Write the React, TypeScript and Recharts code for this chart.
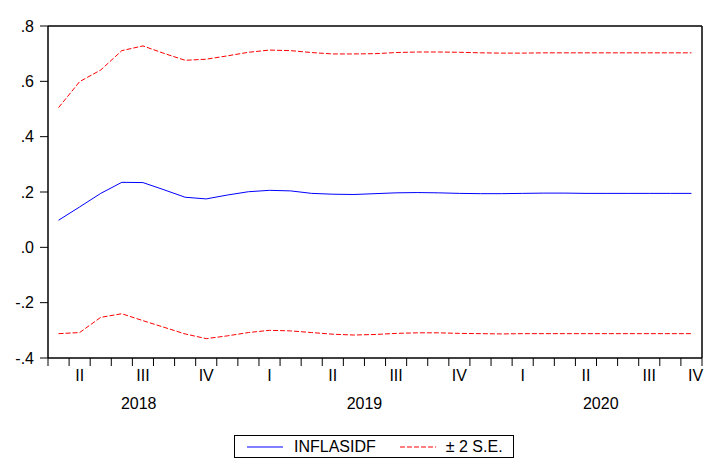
import { LineChart, Line, XAxis, YAxis, ReferenceLine } from 'recharts';

const months = [
  '2018M04', '2018M05', '2018M06', '2018M07', '2018M08', '2018M09', '2018M10', '2018M11', '2018M12',
  '2019M01', '2019M02', '2019M03', '2019M04', '2019M05', '2019M06', '2019M07', '2019M08', '2019M09',
  '2019M10', '2019M11', '2019M12', '2020M01', '2020M02', '2020M03', '2020M04', '2020M05', '2020M06',
  '2020M07', '2020M08', '2020M09', '2020M10',
];

const forecast = [
  0.098, 0.146, 0.195, 0.235, 0.234, 0.208, 0.181, 0.175, 0.189, 0.201, 0.206, 0.204, 0.195, 0.192,
  0.191, 0.194, 0.197, 0.198, 0.197, 0.195, 0.194, 0.194, 0.195, 0.196, 0.196, 0.195, 0.195, 0.195,
  0.195, 0.195, 0.195,
];

const upper = [
  0.505, 0.599, 0.641, 0.711, 0.728, 0.701, 0.676, 0.680, 0.692, 0.705, 0.713, 0.711, 0.704, 0.699,
  0.699, 0.700, 0.704, 0.706, 0.706, 0.705, 0.703, 0.702, 0.702, 0.703, 0.703, 0.703, 0.703, 0.703,
  0.703, 0.703, 0.703,
];

const lower = [
  -0.312, -0.308, -0.253, -0.240, -0.265, -0.289, -0.313, -0.330, -0.320, -0.308, -0.300, -0.302,
  -0.308, -0.314, -0.317, -0.315, -0.311, -0.309, -0.309, -0.311, -0.312, -0.313, -0.312, -0.312,
  -0.312, -0.312, -0.312, -0.312, -0.312, -0.312, -0.312,
];

const quarterLabels = ['II', 'III', 'IV', 'I', 'II', 'III', 'IV', 'I', 'II', 'III', 'IV'];
const quarterPos = [1.5, 4.5, 7.5, 10.5, 13.5, 16.5, 19.5, 22.5, 25.5, 28.5, 30.7];
const yearLabels = ['2018', '2019', '2020'];
const yearPos = [4.3, 15, 26.2];
const yTicks = [-0.4, -0.2, 0, 0.2, 0.4, 0.6, 0.8];

const monthTicks = months.map((_, i) => i).concat([months.length]);

const data = months.map((m, i) => ({
  month: m,
  x: i + 0.5,
  forecast: forecast[i],
  upper: upper[i],
  lower: lower[i],
}));

const FONT = '"Liberation Sans", Arial, sans-serif';

function fmtY(v: number) {
  if (v === 0) return '.0';
  const s = Math.abs(v).toFixed(1).replace(/^0/, '');
  return v < 0 ? '-' + s : s;
}

export default function App() {
  return (
    <div style={{ position: 'absolute', left: 0, top: 0, width: 708, height: 461, background: '#fff', fontFamily: FONT }}>
      <LineChart width={708} height={461} data={data} margin={{ top: 26, right: 6, bottom: 39, left: 0 }}>
        <XAxis
          dataKey="x" type="number" domain={[0, 31]} ticks={monthTicks}
          tickFormatter={() => ''} tickSize={8} height={8}
          stroke="#000" axisLine={{ stroke: '#000', strokeWidth: 1.5 }}
        />
        <XAxis
          xAxisId="q" dataKey="x" type="number" domain={[0, 31]} ticks={quarterPos}
          tickFormatter={(_v: number, i: number) => quarterLabels[i]}
          axisLine={false} tickLine={false} tickSize={0} tickMargin={4} height={26}
          tick={{ fill: '#000', fontSize: 16, fontFamily: FONT }}
        />
        <XAxis
          xAxisId="y" dataKey="x" type="number" domain={[0, 31]} ticks={yearPos}
          tickFormatter={(_v: number, i: number) => yearLabels[i]}
          axisLine={false} tickLine={false} tickSize={0} tickMargin={6} height={30}
          tick={{ fill: '#000', fontSize: 16, fontFamily: FONT }}
        />
        <YAxis
          domain={[-0.4, 0.8]} ticks={yTicks} tickFormatter={fmtY} width={48}
          tickSize={8} tickMargin={6} stroke="#000" axisLine={{ stroke: '#000', strokeWidth: 1.5 }}
          tick={{ fill: '#000', fontSize: 16, fontFamily: FONT }}
        />
        <ReferenceLine y={0.8} stroke="#000" strokeWidth={1.5} />
        <ReferenceLine x={31} stroke="#000" strokeWidth={1.5} />
        <Line dataKey="upper" stroke="#ff0000" strokeDasharray="5 2" strokeWidth={1} dot={false} isAnimationActive={false} />
        <Line dataKey="lower" stroke="#ff0000" strokeDasharray="5 2" strokeWidth={1} dot={false} isAnimationActive={false} />
        <Line dataKey="forecast" stroke="#0000ff" strokeWidth={1} dot={false} isAnimationActive={false} />
      </LineChart>
      <div style={{
        position: 'absolute', left: 234, top: 435, width: 280, height: 23, border: '1px solid #000',
        display: 'flex', alignItems: 'center', fontSize: 16, color: '#000', boxSizing: 'border-box',
      }}>
        <svg width={36} height={4} style={{ marginLeft: 12 }}>
          <line x1={0} y1={2} x2={36} y2={2} stroke="#0000ff" strokeWidth={1} />
        </svg>
        <span style={{ marginLeft: 11 }}>INFLASIDF</span>
        <svg width={36} height={4} style={{ marginLeft: 24 }}>
          <line x1={0} y1={2} x2={36} y2={2} stroke="#ff0000" strokeWidth={1} strokeDasharray="5 2" />
        </svg>
        <span style={{ marginLeft: 10 }}>± 2 S.E.</span>
      </div>
    </div>
  );
}
